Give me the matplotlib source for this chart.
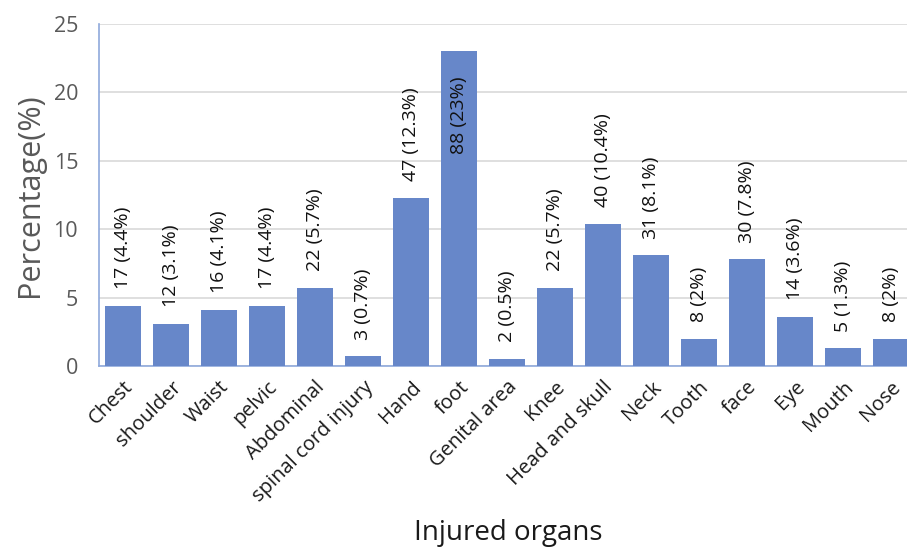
import matplotlib
matplotlib.use("Agg")
import matplotlib.pyplot as plt

categories = ["Chest", "shoulder", "Waist", "pelvic", "Abdominal", "spinal cord injury",
              "Hand", "foot", "Genital area", "Knee", "Head and skull", "Neck",
              "Tooth", "face", "Eye", "Mouth", "Nose"]
counts = [17, 12, 16, 17, 22, 3, 47, 88, 2, 22, 40, 31, 8, 30, 14, 5, 8]
percents = [4.4, 3.1, 4.1, 4.4, 5.7, 0.7, 12.3, 23, 0.5, 5.7, 10.4, 8.1, 2, 7.8, 3.6, 1.3, 2]
yticks = [0, 5, 10, 15, 20, 25]

plt.rcParams['font.family'] = ['Open Sans', 'DejaVu Sans']

fig = plt.figure(figsize=(9.07, 5.49), dpi=100)
W, H = 907, 549
left_px, right_px, top_px, bottom_px = 99, 99 + 17 * 48.0, 24, 366
ax = fig.add_axes([left_px / W, 1 - bottom_px / H, (right_px - left_px) / W, (bottom_px - top_px) / H])

x = list(range(len(categories)))
ax.bar(x, percents, width=0.75, color="#6787C9", zorder=3)
ax.set_xlim(-0.5, len(categories) - 0.5)
ax.set_ylim(0, 25)
ax.set_yticks(yticks)
ax.set_yticklabels([str(t) for t in yticks])
ax.yaxis.grid(True, color="#d9d9d9", linewidth=1.2, zorder=0)
ax.set_axisbelow(True)

for s in ["top", "right"]:
    ax.spines[s].set_visible(False)
for s in ["left", "bottom"]:
    ax.spines[s].set_color("#8fa9dc")
    ax.spines[s].set_linewidth(1.2)

ax.tick_params(axis="both", length=0)
ax.tick_params(axis="y", pad=15, colors="#595959", labelsize=15.5)
ax.tick_params(axis="x", pad=8, colors="#1a1a1a", labelsize=14.5)
ax.set_xticks(x)
ax.set_xticklabels(categories, rotation=45, ha="right", rotation_mode="anchor")

for xi, c, p in zip(x, counts, percents):
    lbl = f"{c} ({p:g}%)"
    if p > 20:
        ax.annotate(lbl, (xi, p), xytext=(0, -18), textcoords="offset points",
                    rotation=90, ha="center", va="top", fontsize=14, color="#111111")
    else:
        ax.annotate(lbl, (xi, p), xytext=(0, 12), textcoords="offset points",
                    rotation=90, ha="center", va="bottom", fontsize=14, color="#111111")

ax.set_ylabel("Percentage(%)", fontsize=22, color="#595959", labelpad=6)
fig.text(508 / W, 1 - 533 / H, "Injured organs", fontsize=20, color="#1a1a1a",
         ha="center", va="center")

fig.savefig("out.png", dpi=100)
